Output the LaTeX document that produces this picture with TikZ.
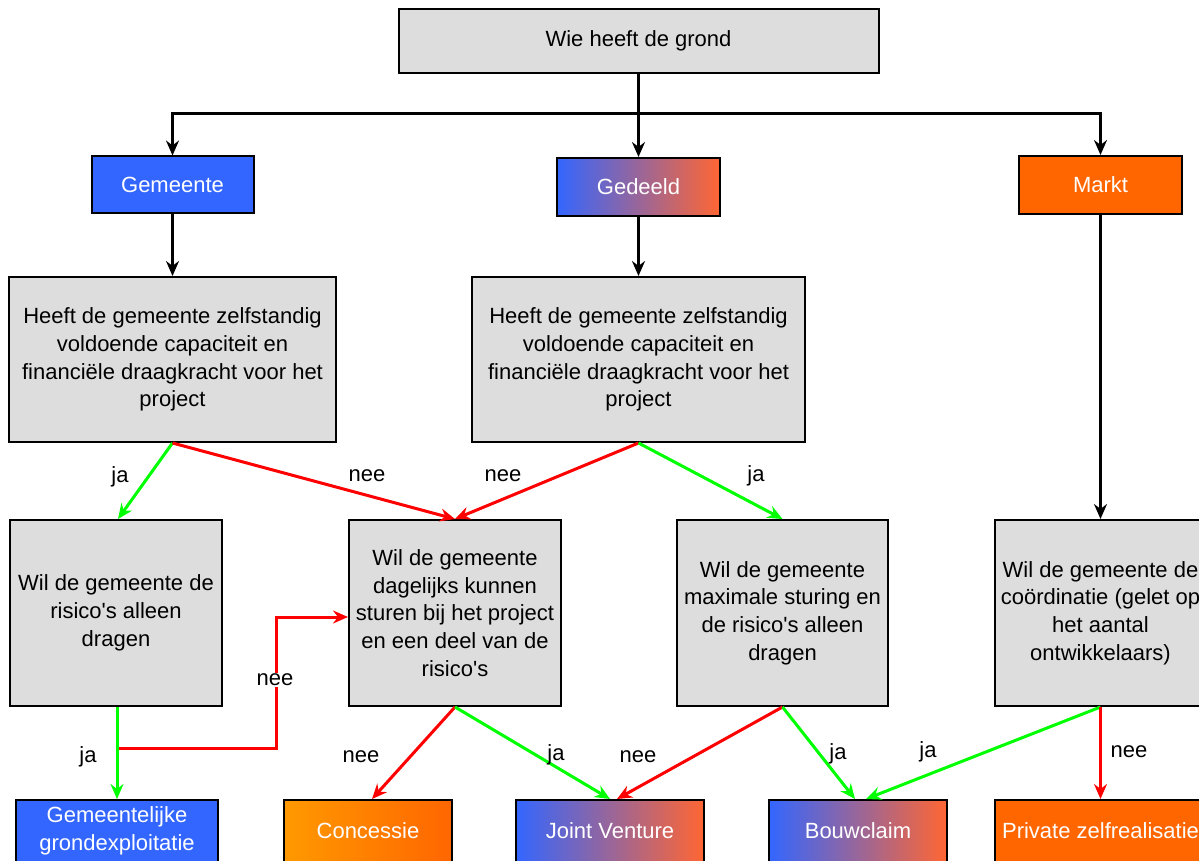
\documentclass[tikz,border=0pt]{standalone}
\usepackage{fontspec}
\setmainfont{Liberation Sans}
\usetikzlibrary{arrows.meta, calc}

\definecolor{grijs}{HTML}{DDDDDD}
\definecolor{blauw}{HTML}{3366FF}
\definecolor{oranje}{HTML}{FF6600}
\definecolor{geel}{HTML}{FF9900}
\definecolor{paars}{HTML}{B066C8}
\definecolor{roze}{HTML}{FF6633}
\definecolor{groen}{HTML}{00FF00}
\newcommand{\apo}{\textquotesingle}

\begin{document}
\begin{tikzpicture}[x=1pt, y=-1pt, line width=3pt,
	font=\fontsize{22}{27.7}\selectfont,
	vak/.style={draw=black, line width=2pt, fill=grijs, inner sep=0pt, align=center},
	kleur/.style={draw=black, line width=2pt, inner sep=0pt, align=center, text=white},
	pijl/.style={-{Stealth[length=15pt, width=13pt, inset=5pt]}},
	ja/.style={pijl, draw=groen},
	nee/.style={pijl, draw=red}]
	\useasboundingbox (0,0) rectangle (1199,861);

	% bovenste rij
	\node[vak, minimum width=480, minimum height=64] (grond) at (638.5,41) {Wie heeft de grond};
	\node[kleur, fill=blauw, minimum width=162, minimum height=57] (gem) at (172.5,185) {Gemeente};
	\node[kleur, left color=blauw, middle color=paars, right color=roze, minimum width=163, minimum height=58] (ged) at (638.5,187) {Gedeeld};
	\node[kleur, fill=oranje, minimum width=163, minimum height=58] (markt) at (1100.5,185) {Markt};

	\node[vak, minimum width=327, minimum height=165] (capl) at (172.5,359.5) {Heeft de gemeente zelfstandig\\ voldoende capaciteit en\\ financiële draagkracht voor het\\ project};
	\node[vak, minimum width=333, minimum height=165] (capm) at (638.5,359.5) {Heeft de gemeente zelfstandig\\ voldoende capaciteit en\\ financiële draagkracht voor het\\ project};

	% vragen
	\node[vak, minimum width=212, minimum height=186] (risico) at (116,613) {Wil de gemeente de\\ risico\apo s alleen\\ dragen};
	\node[vak, minimum width=212, minimum height=186] (dag) at (455,613) {Wil de gemeente\\ dagelijks kunnen\\ sturen bij het project\\ en een deel van de\\ risico\apo s};
	\node[vak, minimum width=211, minimum height=186] (max) at (782.5,613) {Wil de gemeente\\ maximale sturing en\\ de risico\apo s alleen\\ dragen};
	\node[vak, minimum width=212, minimum height=186] (coord) at (1100.5,613) {Wil de gemeente de\\ coördinatie (gelet op\\ het aantal\\ ontwikkelaars)};

	% uitkomsten
	\node[kleur, fill=blauw, minimum width=202, minimum height=62] (gex) at (117,831) {Gemeentelijke\\ grondexploitatie};
	\node[kleur, left color=geel, right color=oranje, minimum width=168, minimum height=62] (con) at (368,831) {Concessie};
	\node[kleur, left color=blauw, middle color=paars, right color=roze, minimum width=188, minimum height=62] (jv) at (610,831) {Joint Venture};
	\node[kleur, left color=blauw, middle color=paars, right color=roze, minimum width=178, minimum height=62] (bc) at (858,831) {Bouwclaim};
	\node[kleur, fill=oranje, minimum width=212, minimum height=62] (pz) at (1100.5,831) {Private zelfrealisatie};

	\draw[pijl] (grond.south) -- (ged.north);
	\draw[pijl] (grond.south) -- ++(0,40) -| (gem.north);
	\draw[pijl] (grond.south) -- ++(0,40) -| (markt.north);
	\draw[pijl] (gem.south) -- (capl.north);
	\draw[pijl] (ged.south) -- (capm.north);
	\draw[pijl] (markt.south) -- (coord.north);

	\draw[ja] (capl.south) -- ([xshift=2pt]risico.north);
	\draw[nee] (capl.south) -- (dag.north);
	\draw[nee] (capm.south) -- (dag.north);
	\draw[ja] (capm.south) -- (max.north);
	\node (l1) at (120,477) {ja};
	\node (l2) at (367,476) {nee};
	\node (l3) at (503,476) {nee};
	\node (l4) at (756,476) {ja};

	\draw[nee] ([xshift=1pt]risico.south) -- ++(0,41) -| ($(dag.west)+(-72,4)$) -- ([yshift=-4pt]dag.west);
	\node[fill=white, inner sep=1pt] (l5) at (275,680) {nee};
	\draw[ja] ([xshift=1pt]risico.south) -- (gex.north);
	\node (l6) at (88,757) {ja};

	\draw[nee] (dag.south) -- ([xshift=4pt]con.north);
	\draw[ja] (dag.south) -- (jv.north);
	\draw[nee] (max.south) -- ([xshift=7pt]jv.north);
	\draw[ja] (max.south) -- ([xshift=-3pt]bc.north);
	\draw[ja] (coord.south) -- ([xshift=8pt]bc.north);
	\draw[nee] (coord.south) -- (pz.north);
	\node (l7) at (361,757) {nee};
	\node (l8) at (556,755) {ja};
	\node (l9) at (638,757) {nee};
	\node (l10) at (838,754) {ja};
	\node (l11) at (928,752) {ja};
	\node (l12) at (1129,752) {nee};
\end{tikzpicture}
\end{document}
